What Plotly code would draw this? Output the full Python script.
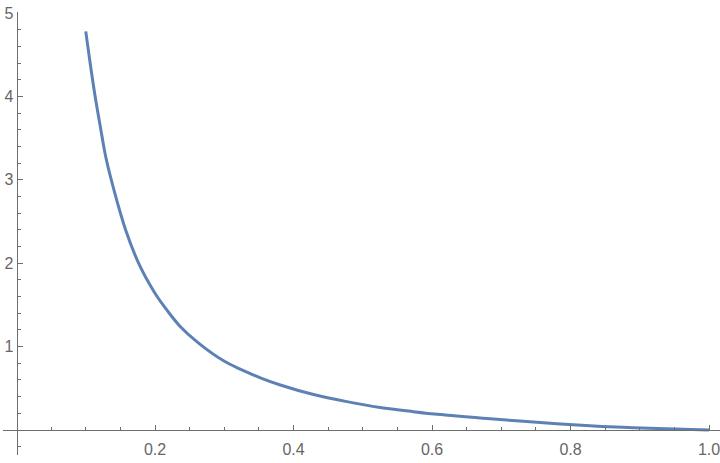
import plotly.graph_objects as go

# values
x_vals = [0.100, 0.106, 0.113, 0.121, 0.129, 0.141, 0.158, 0.178, 0.200, 0.217,
          0.236, 0.2625, 0.299, 0.323, 0.354, 0.381, 0.429, 0.477, 0.525, 0.573,
          0.612, 0.684, 0.732, 0.780, 0.828, 0.876, 0.925, 1.000]
y_vals = [4.78, 4.42, 4.03, 3.64, 3.27, 2.87, 2.39, 1.97, 1.64, 1.44,
          1.245, 1.045, 0.83, 0.73, 0.62, 0.54, 0.425, 0.34, 0.27, 0.22,
          0.185, 0.135, 0.104, 0.075, 0.050, 0.032, 0.017, 0.0]

x_major = [0.2, 0.4, 0.6, 0.8, 1.0]
x_labels = ["0.2", "0.4", "0.6", "0.8", "1.0"]
x_minor = [0.05, 0.1, 0.15, 0.25, 0.3, 0.35, 0.45, 0.5, 0.55, 0.65, 0.7, 0.75,
           0.85, 0.9, 0.95]
y_major = [1, 2, 3, 4, 5]
y_minor = [-0.2, 0.2, 0.4, 0.6, 0.8, 1.2, 1.4, 1.6, 1.8, 2.2, 2.4, 2.6, 2.8,
           3.2, 3.4, 3.6, 3.8, 4.2, 4.4, 4.6, 4.8]

AXIS_COLOR = "#6e6e6e"
LABEL_FONT = dict(family="Liberation Sans, Arial, sans-serif", size=16, color="#666666")

fig = go.Figure()
fig.add_trace(
    go.Scatter(
        x=x_vals,
        y=y_vals,
        mode="lines",
        line=dict(color="#5e81b5", width=3, shape="spline", smoothing=1),
        hoverinfo="skip",
    )
)

fig.update_layout(
    width=720,
    height=463,
    margin=dict(l=0, r=0, t=0, b=0),
    paper_bgcolor="white",
    plot_bgcolor="white",
    showlegend=False,
    xaxis=dict(
        domain=[3 / 720, 1],
        range=[-0.01949, 1.01588],
        anchor="free",
        position=33 / 463,
        automargin=False,
        showline=True,
        linecolor=AXIS_COLOR,
        linewidth=1,
        showgrid=False,
        zeroline=False,
        tickmode="array",
        tickvals=x_major,
        ticktext=x_labels,
        ticks="inside",
        ticklen=5,
        tickcolor=AXIS_COLOR,
        tickfont=LABEL_FONT,
        ticklabelstandoff=5,
        ticklabeloverflow="allow",
        minor=dict(tickmode="array", tickvals=x_minor, ticks="inside", ticklen=3,
                   tickcolor=AXIS_COLOR, showgrid=False),
    ),
    yaxis=dict(
        domain=[8 / 463, 451 / 463],
        range=[-0.2998, 5.012],
        anchor="free",
        position=16.5 / 720,
        automargin=False,
        showline=True,
        linecolor=AXIS_COLOR,
        linewidth=1,
        showgrid=False,
        zeroline=False,
        tickmode="array",
        tickvals=y_major,
        ticks="inside",
        ticklen=5,
        tickcolor=AXIS_COLOR,
        tickfont=LABEL_FONT,
        ticklabeloverflow="allow",
        minor=dict(tickmode="array", tickvals=y_minor, ticks="inside", ticklen=3,
                   tickcolor=AXIS_COLOR, showgrid=False),
    ),
)

# drop the browser's default page margin so the figure sits at the window corner
fig.write_html(
    "out.html",
    config={"displayModeBar": False},
    post_script="document.body.style.margin='0';",
)
